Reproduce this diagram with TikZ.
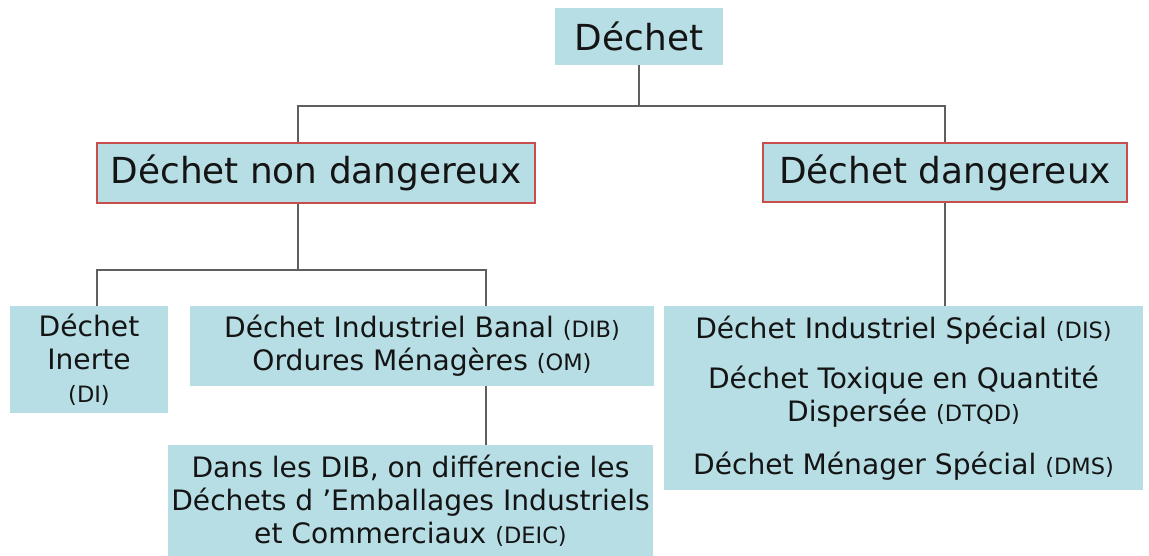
\documentclass[tikz,border=0pt]{standalone}
\usepackage{fontspec}
\setmainfont{DejaVu Sans}
\usetikzlibrary{positioning, calc}
\usepackage{xcolor}
\definecolor{cBox}{RGB}{183, 222, 229}
\definecolor{bRed}{RGB}{200, 78, 76}
\definecolor{lGray}{RGB}{95, 95, 95}
\definecolor{tDark}{RGB}{20, 20, 20}
\newcommand{\abbr}[1]{{\fontsize{16}{18}\selectfont(#1)}}

\begin{document}
\begin{tikzpicture}[
    x=0.025cm, y=-0.025cm,
    block/.style={
        fill=cBox,
        text=tDark,
        align=center,
        inner sep=2pt,
        font=\fontsize{20}{23.5}\selectfont
    },
    head/.style={
        block,
        font=\fontsize{25.5}{29}\selectfont
    },
    framed/.style={draw=bRed, line width=0.9pt},
    link/.style={line width=0.9pt, color=lGray}
]

\useasboundingbox (0,0) rectangle (1149,555);

\node[head, minimum width=4.2cm, minimum height=1.425cm] (dechet) at (639, 36.5) {Déchet};

\node[head, framed, minimum width=10.95cm, minimum height=1.5cm] (nondang) at (316, 173) {Déchet non dangereux};

\node[head, framed, minimum width=9.1cm, minimum height=1.475cm] (dang) at (945, 172.5) {Déchet dangereux};

\node[block, minimum width=3.95cm, minimum height=2.675cm] (inerte) at (89, 359.5) {
    Déchet\\
    Inerte\\
    \abbr{DI}
};

\node[block, minimum width=11.6cm, minimum height=2.0cm] (dib) at (422, 346) {
    Déchet Industriel Banal \abbr{DIB}\\
    Ordures Ménagères \abbr{OM}
};

\node[block, minimum width=12.125cm, minimum height=2.8cm] (deic) at (410.5, 501) {
    Dans les DIB, on différencie les\\
    Déchets d 'Emballages Industriels\\
    et Commerciaux \abbr{DEIC}
};

\node[block, minimum width=11.975cm, minimum height=4.6cm] (speciaux) at (903.5, 398) {
    Déchet Industriel Spécial \abbr{DIS}\\[12pt]
    Déchet Toxique en Quantité\\
    Dispersée \abbr{DTQD}\\[14pt]
    Déchet Ménager Spécial \abbr{DMS}
};

\coordinate (split1) at (0, 106);
\coordinate (split2) at (0, 270);

\draw[link] (dechet.south) -- (dechet.south |- split1);
\draw[link] ([xshift=-0.45cm]nondang.north) |- (dang.north |- split1) -- (dang.north);
\draw[link] ([xshift=-0.45cm]nondang.south) -- ([xshift=-0.45cm]nondang.south |- split2);
\draw[link] ([xshift=0.2cm]inerte.north) |- ([xshift=1.6cm]dib.north |- split2) -- ([xshift=1.6cm]dib.north);
\draw[link] ([xshift=1.6cm]dib.south) -- ([xshift=1.6cm]dib.south |- deic.north);
\draw[link] (dang.south) -- (dang.south |- speciaux.north);

\end{tikzpicture}
\end{document}
